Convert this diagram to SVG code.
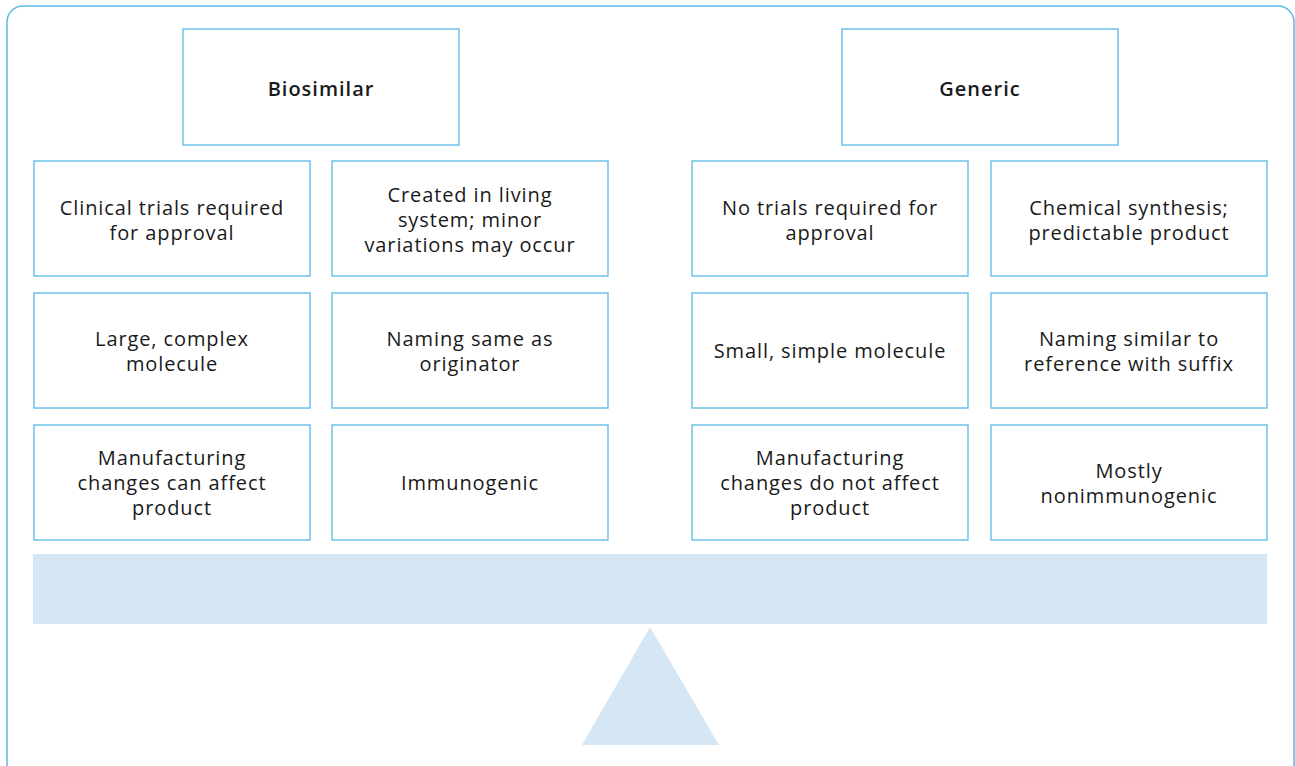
<svg xmlns="http://www.w3.org/2000/svg" width="1295" height="766" viewBox="0 0 1295 766">
<style>
.frame{fill:#ffffff;stroke:#5db9e8;stroke-width:1.5}
.box{fill:#ffffff;stroke:#6fc1ec;stroke-width:1.5}
.shape{fill:#d5e6f5}
text{font-family:"Open Sans","Liberation Sans",sans-serif;font-size:20px;letter-spacing:0.9px;fill:#1a1a1a;text-anchor:middle}
.hd{font-weight:600;letter-spacing:1px}
</style>
<rect class="frame" x="7" y="6" width="1287" height="775" rx="16"/>
<g id="biosimilar"><rect class="box" x="183" y="29" width="276" height="116"/><text class="hd" x="321" y="96">Biosimilar</text></g>
<g id="generic"><rect class="box" x="842" y="29" width="276" height="116"/><text class="hd" x="980" y="96">Generic</text></g>
<g id="b1"><rect class="box" x="34" y="161" width="276" height="115"/><text x="172" y="215">Clinical trials required</text><text x="172" y="240">for approval</text></g>
<g id="b2"><rect class="box" x="332" y="161" width="276" height="115"/><text x="470" y="202">Created in living</text><text x="470" y="227">system; minor</text><text x="470" y="252">variations may occur</text></g>
<g id="b3"><rect class="box" x="34" y="293" width="276" height="115"/><text x="172" y="346">Large, complex</text><text x="172" y="371">molecule</text></g>
<g id="b4"><rect class="box" x="332" y="293" width="276" height="115"/><text x="470" y="346">Naming same as</text><text x="470" y="371">originator</text></g>
<g id="b5"><rect class="box" x="34" y="425" width="276" height="115"/><text x="172" y="465">Manufacturing</text><text x="172" y="490">changes can affect</text><text x="172" y="515">product</text></g>
<g id="b6"><rect class="box" x="332" y="425" width="276" height="115"/><text x="470" y="490">Immunogenic</text></g>
<g id="g1"><rect class="box" x="692" y="161" width="276" height="115"/><text x="830" y="215">No trials required for</text><text x="830" y="240">approval</text></g>
<g id="g2"><rect class="box" x="991" y="161" width="276" height="115"/><text x="1129" y="215">Chemical synthesis;</text><text x="1129" y="240">predictable product</text></g>
<g id="g3"><rect class="box" x="692" y="293" width="276" height="115"/><text x="830" y="358">Small, simple molecule</text></g>
<g id="g4"><rect class="box" x="991" y="293" width="276" height="115"/><text x="1129" y="346">Naming similar to</text><text x="1129" y="371">reference with suffix</text></g>
<g id="g5"><rect class="box" x="692" y="425" width="276" height="115"/><text x="830" y="465">Manufacturing</text><text x="830" y="490">changes do not affect</text><text x="830" y="515">product</text></g>
<g id="g6"><rect class="box" x="991" y="425" width="276" height="115"/><text x="1129" y="478">Mostly</text><text x="1129" y="503">nonimmunogenic</text></g>
<g id="scale"><rect class="shape" x="33" y="554" width="1234" height="70"/><polygon class="shape" points="650,627 719,745 582,745"/></g>
<g id="connectors"></g>
</svg>
